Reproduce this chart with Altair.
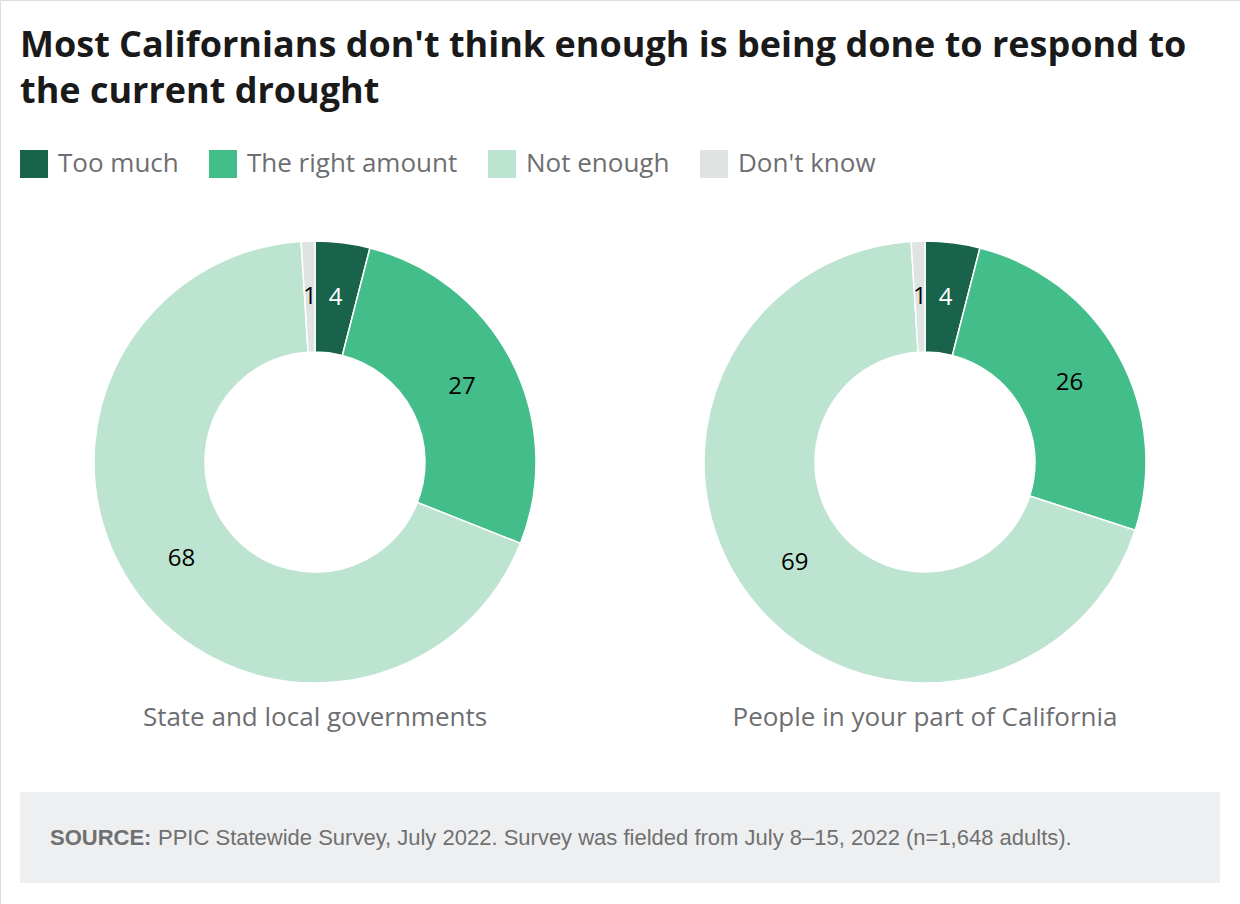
import math
import altair as alt
import pandas as pd

# Survey categories and colours
categories = ["Too much", "The right amount", "Not enough", "Don't know"]
colors = ["#19634a", "#43bd8a", "#bde3d1", "#dfe4e2"]

# Groups asked about and their response shares (%)
groups = ["State and local governments", "People in your part of California"]
state_local = [4, 27, 68, 1]
people_area = [4, 26, 69, 1]

title_lines = [
    "Most Californians don't think enough is being done to respond to",
    "the current drought",
]
source_label = "SOURCE:"
source_text = "PPIC Statewide Survey, July 2022. Survey was fielded from July 8\u201315, 2022 (n=1,648 adults)."

rows = []
for g, vals in zip(groups, [state_local, people_area]):
    for i, (c, v) in enumerate(zip(categories, vals)):
        rows.append({"group": g, "category": c, "order": i, "value": v})
df = pd.DataFrame(rows)

FONT = "Open Sans"
GREY = "#6d6e71"
theta_scale = alt.Scale(domain=[0, 100], range=[0, 2 * math.pi])
color_scale = alt.Scale(domain=categories, range=colors)


def donut(group, cx, cy):
    base = (
        alt.Chart(df)
        .transform_filter(alt.datum.group == group)
        .transform_stack(
            stack="value",
            groupby=["group"],
            as_=["start", "end"],
            sort=[alt.SortField("order", order="ascending")],
        )
        .transform_calculate(mid="(datum.start + datum.end) / 2")
    )
    arcs = base.mark_arc(
        innerRadius=110, outerRadius=221, stroke="white", strokeWidth=1.5
    ).encode(
        theta=alt.Theta("start:Q", scale=theta_scale),
        theta2="end:Q",
        color=alt.Color(
            "category:N",
            scale=color_scale,
            sort=categories,
            legend=alt.Legend(
                title=None,
                orient="none",
                legendX=20,
                legendY=150,
                direction="horizontal",
                symbolType="square",
                symbolSize=784,
                symbolStrokeWidth=0,
                symbolOpacity=1,
                labelFont=FONT,
                labelFontSize=26,
                labelColor=GREY,
                labelOffset=10,
                labelLimit=400,
                columnPadding=30,
            ),
        ),
        x=alt.value(cx),
        y=alt.value(cy),
    )
    labels = base.mark_text(
        radius=165, font=FONT, fontSize=24, baseline="middle", align="center"
    ).encode(
        theta=alt.Theta("mid:Q", scale=theta_scale),
        text=alt.Text("value:Q"),
        color=alt.condition(
            alt.datum.category == "Too much", alt.value("white"), alt.value("black")
        ),
        x=alt.value(cx),
        y=alt.value(cy),
    )
    caption = (
        alt.Chart(pd.DataFrame({"g": [group]}))
        .mark_text(font=FONT, fontSize=26, color=GREY, align="center", baseline="alphabetic")
        .encode(text="g:N", x=alt.value(cx), y=alt.value(726))
    )
    return [arcs, labels, caption]


title = (
    alt.Chart(pd.DataFrame({"k": [0]}))
    .mark_text(
        font=FONT,
        fontSize=36,
        fontWeight="bold",
        color="#1a1a1a",
        align="left",
        baseline="alphabetic",
        lineHeight=46,
    )
    .encode(text=alt.value(title_lines), x=alt.value(20), y=alt.value(57))
)

box = (
    alt.Chart(pd.DataFrame({"k": [0]}))
    .mark_rect(color="#eeeff0")
    .encode(x=alt.value(20), x2=alt.value(1220), y=alt.value(792), y2=alt.value(883))
)

src_bold = (
    alt.Chart(pd.DataFrame({"t": [source_label]}))
    .mark_text(font="Liberation Sans", fontSize=22, fontWeight="bold", color="#707070",
               align="left", baseline="alphabetic")
    .encode(text="t:N", x=alt.value(50), y=alt.value(845))
)
src_rest = (
    alt.Chart(pd.DataFrame({"t": [source_text]}))
    .mark_text(font="Liberation Sans", fontSize=22, color="#707070",
               align="left", baseline="alphabetic")
    .encode(text="t:N", x=alt.value(158), y=alt.value(845))
)

layers = [box, src_bold, src_rest, title]
layers += donut(groups[0], 315, 462)
layers += donut(groups[1], 925, 462)

chart = (
    alt.layer(*layers)
    .properties(width=1240, height=904, autosize=alt.AutoSizeParams(type="none"), padding=0)
    .configure_view(strokeWidth=0)
    .configure(background="white")
)

chart.save("out.html", embed_options={"renderer": "svg", "actions": False})
